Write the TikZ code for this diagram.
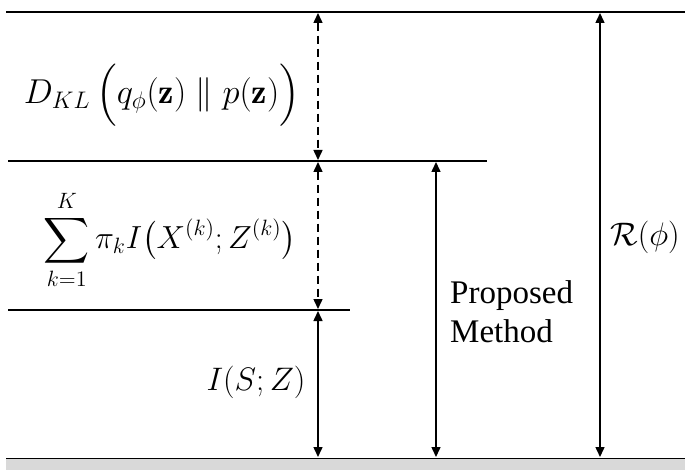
\documentclass[tikz,border=0pt]{standalone}
\usepackage{fontspec}
\usepackage{amsmath,amssymb}
\newfontfamily\timesfont{Liberation Serif}
\usetikzlibrary{arrows.meta}
\definecolor{basegray}{HTML}{D9D9D9}
\tikzset{
  hline/.style={line width=2pt},
  arr/.style={line width=1.5pt,{Triangle[length=10pt,width=9pt]}-{Triangle[length=10pt,width=9pt]}},
  darr/.style={arr,dash pattern=on 8pt off 5pt},
  mathlbl/.style={font=\huge,inner sep=0pt,scale=1.57,transform shape},
  sumlbl/.style={font=\huge,inner sep=0pt,scale=1.54,transform shape},
  txtlbl/.style={font=\timesfont\fontsize{33}{39}\selectfont,inner sep=0pt,align=left}
}
\begin{document}
\begin{tikzpicture}[x=1pt,y=-1pt]
\useasboundingbox (0,0) rectangle (685,470);
% gray base
\fill[basegray] (6,458) rectangle (685,470);
\coordinate (b0) at (6,458);
\coordinate (b1) at (685,458);
\draw[line width=1pt] (b0) -- (b1);
% horizontal lines
\coordinate (t0) at (6,12);
\coordinate (t1) at (685,12);
\coordinate (m0) at (8,161);
\coordinate (m1) at (487,161);
\coordinate (l0) at (8,310);
\coordinate (l1) at (350,310);
\draw[hline] (t0) -- (t1);
\draw[hline] (m0) -- (m1);
\draw[hline] (l0) -- (l1);
% arrow end points
\coordinate (a1t) at (318,13);
\coordinate (a1b) at (318,160);
\coordinate (a2t) at (318,162);
\coordinate (a2b) at (318,309);
\coordinate (a3t) at (318,311);
\coordinate (a3b) at (318,457);
\coordinate (pmt) at (436,162);
\coordinate (pmb) at (436,457);
\coordinate (rt) at (600,13);
\coordinate (rb) at (600,457);
\draw[darr] (a1t) -- (a1b);
\draw[darr] (a2t) -- (a2b);
\draw[arr] (a3t) -- (a3b);
\draw[arr] (pmt) -- (pmb);
\draw[arr] (rt) -- (rb);
% labels
\node[mathlbl,scale=1.06] (kl) at (162,95) {$D_{KL}\,\Bigl(q_\phi(\mathbf{z})\parallel p(\mathbf{z})\Bigr)$};
\node[sumlbl] (sum) at (170,240) {$\displaystyle\sum_{k=1}^{K}\pi_k I\bigl(X^{(k)};Z^{(k)}\bigr)$};
\node[mathlbl] (isz) at (256,382) {$I(S;Z)$};
\node[txtlbl,anchor=west] (pm) at (450,312) {Proposed\\Method};
\node[mathlbl] (rphi) at (645,237) {$\mathcal{R}(\phi)$};
\end{tikzpicture}
\end{document}
